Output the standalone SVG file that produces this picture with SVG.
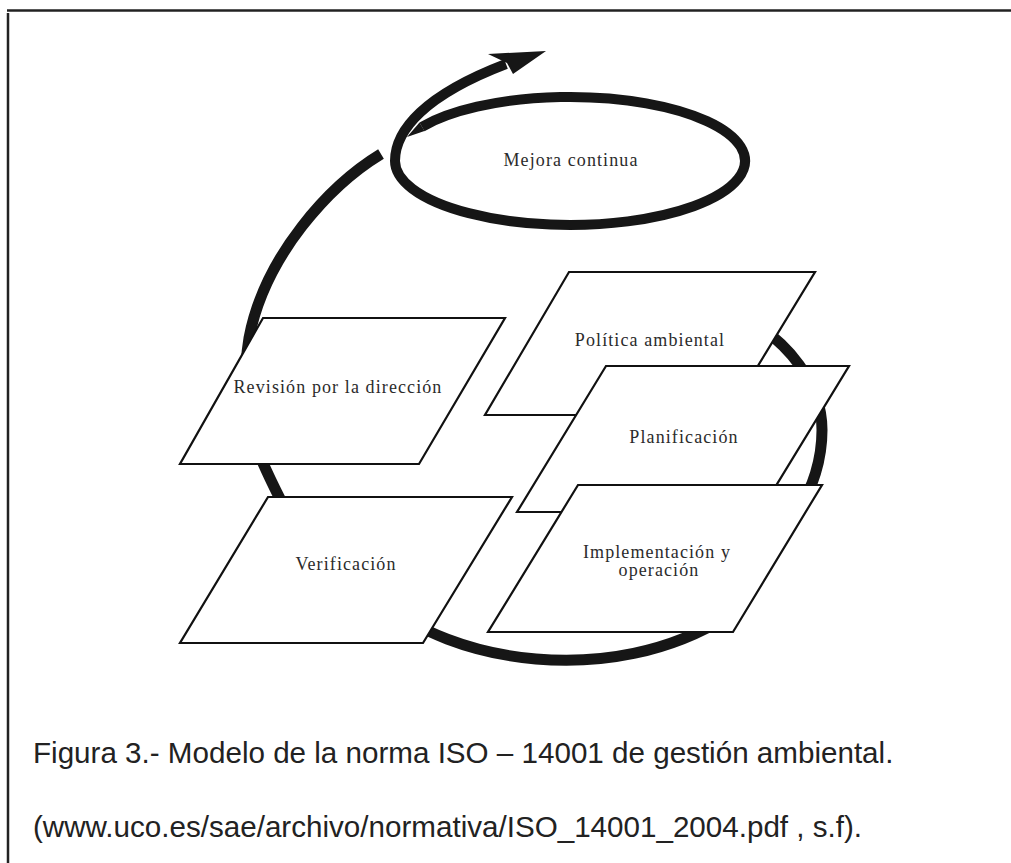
<svg xmlns="http://www.w3.org/2000/svg" width="1011" height="863" viewBox="0 0 1011 863">
<style>
.para{fill:#fff;stroke:#111;stroke-width:2.2;stroke-linejoin:miter}
.ring{fill:none;stroke:#161616;stroke-width:11;stroke-linecap:butt}
.spiral{fill:none;stroke:#161616;stroke-width:10;stroke-linecap:butt}
.ink{fill:#161616}
.lbl{font-family:"Liberation Serif","Times New Roman",serif;font-size:18px;fill:#2b2b2b;letter-spacing:1.1px;text-anchor:middle}
.cap{font-family:"Liberation Sans",Arial,sans-serif;font-size:29.6px;fill:#222}
.frame{stroke:#222;stroke-width:2.5;fill:none}
</style>
<rect width="1011" height="863" fill="#fff"/>
<g id="frame">
<line class="frame" x1="7" y1="10.5" x2="1011" y2="10.5"/>
<line class="frame" x1="8" y1="13" x2="8" y2="863"/>
</g>
<g id="connectors">
<path class="ring" d="M381,154 C330,185 265,255 249,338 C244,370 244,400 248,425"/>
<path class="ring" d="M254,440 Q262,465 292,522"/>
<path class="ring" d="M380,600 C450,662 610,690 728,616"/>
<path class="ring" d="M735,312 C790,340 822,385 822,430 C822,460 812,490 800,505"/>
</g>
<g id="mejora-continua">
<path class="spiral" d="M422,126.8 A175,64 0 1,1 395,161 C395,130 425,95 506,64"/>
<polygon class="ink" points="424.5,131.1 419.5,122.5 407,137"/>
<polygon class="ink" points="488,54 546,51 513,74 507,63"/>
<text class="lbl" x="571" y="166">Mejora continua</text>
</g>
<g id="revision">
<polygon class="para" points="263,318 505,318 419,464 180,464"/>
<text class="lbl" x="338" y="393">Revisión por la dirección</text>
</g>
<g id="verificacion">
<polygon class="para" points="268,497 512,497 423,643 180,643"/>
<text class="lbl" x="346" y="570">Verificación</text>
</g>
<g id="politica">
<polygon class="para" points="569,272 815,272 728,415 485,415"/>
<text class="lbl" x="650" y="346">Política ambiental</text>
</g>
<g id="planificacion">
<polygon class="para" points="606,366 849,366 760,512 517,512"/>
<text class="lbl" x="684" y="443">Planificación</text>
</g>
<g id="implementacion">
<polygon class="para" points="578,485 822,485 733,632 488,632"/>
<text class="lbl" x="657" y="558">Implementación y</text>
<text class="lbl" x="659" y="576">operación</text>
</g>
<g id="caption">
<text class="cap" x="33" y="763">Figura 3.- Modelo de la norma ISO – 14001 de gestión ambiental.</text>
<text class="cap" x="33" y="837">(www.uco.es/sae/archivo/normativa/ISO_14001_2004.pdf , s.f).</text>
</g>
</svg>
